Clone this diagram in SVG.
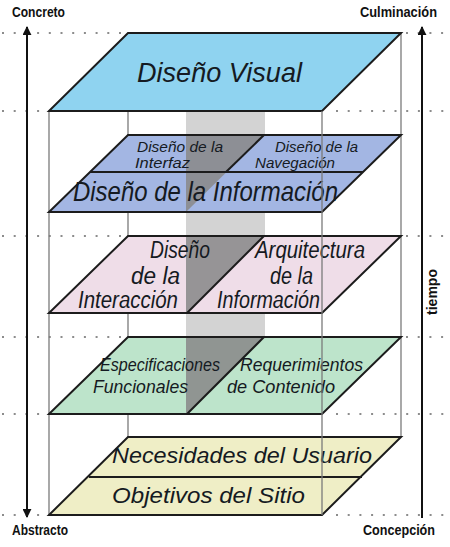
<svg xmlns="http://www.w3.org/2000/svg" width="450" height="547" viewBox="0 0 450 547">
<defs>
<style>
.dot{stroke:#8c8c8c;stroke-width:2;stroke-dasharray:2 9.7;fill:none}
.vline{stroke:#7a7a7a;stroke-width:1.3;fill:none}
.layer{stroke:#1c1c1c;stroke-width:2;stroke-linejoin:miter}
.div{stroke:#1c1c1c;stroke-width:2;fill:none}
.dark{fill:#8a8a8a;opacity:0.88}
.lbl{font-family:"Liberation Sans",Arial,sans-serif;font-style:italic;fill:#151a22}
.hd{font-family:"Liberation Sans Narrow","Liberation Sans",Arial,sans-serif;font-weight:bold;font-size:14px;fill:#111}
.arrow{stroke:#111;stroke-width:2;fill:none}
</style>
<marker id="ah" viewBox="0 0 10 10" refX="9" refY="5" markerWidth="9" markerHeight="9" markerUnits="userSpaceOnUse" orient="auto-start-reverse">
<path d="M0,0 L10,5 L0,10 z" fill="#111"/>
</marker>
</defs>
<rect width="450" height="547" fill="#fff"/>

<g id="guides">
<line class="dot" x1="2" y1="33" x2="128" y2="33"/>
<line class="dot" x1="406" y1="33" x2="450" y2="33"/>
<line class="dot" x1="2" y1="111" x2="49" y2="111"/>
<line class="dot" x1="336" y1="111" x2="450" y2="111"/>
<line class="dot" x1="2" y1="236" x2="128" y2="236"/>
<line class="dot" x1="406" y1="236" x2="450" y2="236"/>
<line class="dot" x1="2" y1="337" x2="128" y2="337"/>
<line class="dot" x1="406" y1="337" x2="450" y2="337"/>
<line class="dot" x1="2" y1="414" x2="49" y2="414"/>
<line class="dot" x1="336" y1="414" x2="450" y2="414"/>
<line class="dot" x1="2" y1="515" x2="49" y2="515"/>
<line class="dot" x1="336" y1="515" x2="450" y2="515"/>
<line class="vline" x1="49" y1="111" x2="49" y2="515"/>
<line class="vline" x1="128" y1="33" x2="128" y2="437"/>
<line class="vline" x1="401" y1="33" x2="401" y2="437"/>
<rect id="column" x="186" y="111" width="79" height="303" fill="#d3d3d3"/>
</g>

<g id="visual">
<polygon class="layer" points="128,33 401,33 322,111 49,111" fill="#8fd3f0"/>
<text class="lbl" x="137" y="82" font-size="28" textLength="165" lengthAdjust="spacingAndGlyphs">Diseño Visual</text>
</g>

<g id="informacion">
<polygon points="128,135 401,135 322,212 49,212" fill="#a3b6e3"/>
<polygon class="dark" points="186,135 264,135 186,212"/>
<polygon class="layer" points="128,135 401,135 322,212 49,212" fill="none"/>
<line class="div" x1="90" y1="172" x2="363" y2="172"/>
<line class="div" x1="264" y1="135" x2="226" y2="172"/>
<text class="lbl" x="137" y="152" font-size="14" textLength="86" lengthAdjust="spacingAndGlyphs">Diseño de la</text>
<text class="lbl" x="135" y="168" font-size="14" textLength="55" lengthAdjust="spacingAndGlyphs">Interfaz</text>
<text class="lbl" x="275" y="152" font-size="14" textLength="83" lengthAdjust="spacingAndGlyphs">Diseño de la</text>
<text class="lbl" x="255" y="168" font-size="14" textLength="80" lengthAdjust="spacingAndGlyphs">Navegación</text>
<text class="lbl" x="73" y="201" font-size="28" textLength="265" lengthAdjust="spacingAndGlyphs">Diseño de la Información</text>
</g>

<g id="interaccion">
<polygon points="128,236 401,236 322,313 49,313" fill="#efdde8"/>
<polygon class="dark" points="186,236 264,236 187,313 186,313"/>
<polygon class="layer" points="128,236 401,236 322,313 49,313" fill="none"/>
<line class="div" x1="264" y1="236" x2="187" y2="313"/>
<text class="lbl" x="150" y="258" font-size="23" textLength="60" lengthAdjust="spacingAndGlyphs">Diseño</text>
<text class="lbl" x="131" y="284" font-size="23" textLength="49" lengthAdjust="spacingAndGlyphs">de la</text>
<text class="lbl" x="78" y="308" font-size="23" textLength="100" lengthAdjust="spacingAndGlyphs">Interacción</text>
<text class="lbl" x="255" y="258" font-size="23" textLength="110" lengthAdjust="spacingAndGlyphs">Arquitectura</text>
<text class="lbl" x="270" y="284" font-size="23" textLength="43" lengthAdjust="spacingAndGlyphs">de la</text>
<text class="lbl" x="217" y="308" font-size="23" textLength="103" lengthAdjust="spacingAndGlyphs">Información</text>
</g>

<g id="especificaciones">
<polygon points="128,337 401,337 322,414 49,414" fill="#bde4cb"/>
<polygon class="dark" points="186,337 264,337 187,414 186,414"/>
<polygon class="layer" points="128,337 401,337 322,414 49,414" fill="none"/>
<line class="div" x1="264" y1="337" x2="187" y2="414"/>
<text class="lbl" x="100" y="371" font-size="19" textLength="120" lengthAdjust="spacingAndGlyphs">Especificaciones</text>
<text class="lbl" x="93" y="393" font-size="19" textLength="95" lengthAdjust="spacingAndGlyphs">Funcionales</text>
<text class="lbl" x="240" y="371" font-size="19" textLength="123" lengthAdjust="spacingAndGlyphs">Requerimientos</text>
<text class="lbl" x="227" y="393" font-size="19" textLength="108" lengthAdjust="spacingAndGlyphs">de Contenido</text>
</g>

<g id="estrategia">
<polygon class="layer" points="128,437 401,437 322,515 49,515" fill="#efeec6"/>
<line class="div" x1="89" y1="477" x2="362" y2="477"/>
<text class="lbl" x="112" y="463" font-size="22" textLength="260" lengthAdjust="spacingAndGlyphs">Necesidades del Usuario</text>
<text class="lbl" x="112" y="503" font-size="22" textLength="193" lengthAdjust="spacingAndGlyphs">Objetivos del Sitio</text>
</g>

<g id="connectors">
<line class="vline" x1="322" y1="111" x2="322" y2="515"/>
<line class="arrow" x1="27" y1="27" x2="27" y2="517" marker-start="url(#ah)" marker-end="url(#ah)"/>
<line class="arrow" x1="422" y1="27" x2="422" y2="518" marker-start="url(#ah)"/>
</g>

<g id="labels">
<text class="hd" x="12" y="17" textLength="53" lengthAdjust="spacingAndGlyphs">Concreto</text>
<text class="hd" x="360" y="17" textLength="77" lengthAdjust="spacingAndGlyphs">Culminación</text>
<text class="hd" x="12" y="535" textLength="56" lengthAdjust="spacingAndGlyphs">Abstracto</text>
<text class="hd" x="363" y="535" textLength="72" lengthAdjust="spacingAndGlyphs">Concepción</text>
<text class="hd" transform="translate(437,292) rotate(-90)" text-anchor="middle" font-size="14">tiempo</text>
</g>
</svg>
